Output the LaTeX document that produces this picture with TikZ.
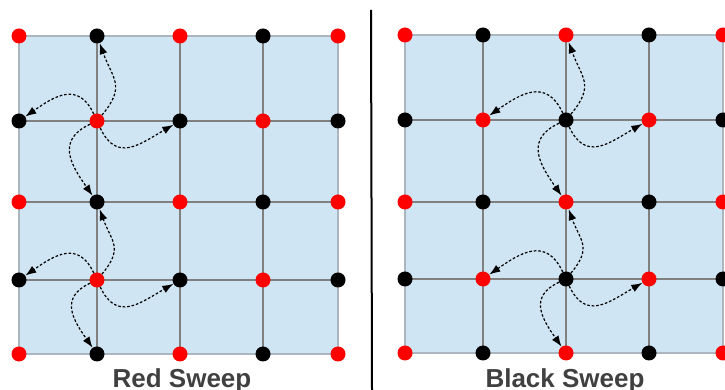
\documentclass[tikz,border=0pt]{standalone}
\usepackage{fontspec}
\setmainfont{Liberation Sans}
\usetikzlibrary{arrows.meta,backgrounds}
\definecolor{gridblue}{RGB}{208,229,243}
\definecolor{bordergray}{RGB}{172,182,192}
\definecolor{linegray}{RGB}{128,128,128}
\definecolor{labelgray}{RGB}{64,64,64}
\tikzset{
  reddot/.style={circle,fill=red,minimum size=15pt,inner sep=0pt},
  blackdot/.style={circle,fill=black,minimum size=15pt,inner sep=0pt},
  gridline/.style={draw=linegray,line width=2.6pt},
  panel/.style={fill=gridblue,draw=bordergray,line width=1.2pt},
  sweeparrow/.style={draw=black,line width=1.2pt,dash pattern=on 2.6pt off 1.9pt,
    looseness=1.35,-{Latex[length=11pt,width=8pt]}},
  sweeplabel/.style={font=\fontsize{26}{30}\selectfont\bfseries,text=labelgray,anchor=base,inner sep=0pt},
}
\begin{document}
\begin{tikzpicture}[x=1pt,y=1pt]
\useasboundingbox (0,0) rectangle (725,390);
% dots, left panel
\foreach \y [count=\i from 0] in {354,269,188,110,36} {
  \foreach \x [count=\j from 0] in {19,97,180,263,338} {
    \pgfmathtruncatemacro\parity{mod(\i+\j,2)}
    \ifnum\parity=0
      \node[reddot] (L-\i-\j) at (\x,\y) {};
    \else
      \node[blackdot] (L-\i-\j) at (\x,\y) {};
    \fi
  }
}
% dots, right panel
\foreach \y [count=\i from 0] in {355,270,188,111,37} {
  \foreach \x [count=\j from 0] in {405,483,566,649,723} {
    \pgfmathtruncatemacro\parity{mod(\i+\j,2)}
    \ifnum\parity=0
      \node[reddot] (R-\i-\j) at (\x,\y) {};
    \else
      \node[blackdot] (R-\i-\j) at (\x,\y) {};
    \fi
  }
}
\begin{pgfonlayer}{background}
  \foreach \p in {L,R} {
    \draw[panel] (\p-0-0.center) rectangle (\p-4-4.center);
    \foreach \k in {1,2,3} {
      \draw[gridline] (\p-0-\k.center) -- (\p-4-\k.center);
      \draw[gridline] (\p-\k-0.center) -- (\p-\k-4.center);
    }
  }
\end{pgfonlayer}
% sweep arrows
\foreach \p/\r/\c in {L/1/1, L/3/1, R/1/2, R/3/2} {
  \pgfmathtruncatemacro\up{\r-1}
  \pgfmathtruncatemacro\dn{\r+1}
  \pgfmathtruncatemacro\lf{\c-1}
  \pgfmathtruncatemacro\rt{\c+1}
  \draw[sweeparrow] (\p-\r-\c) to[out=50,in=-70] (\p-\up-\c);
  \draw[sweeparrow] (\p-\r-\c) to[out=115,in=35] (\p-\r-\lf);
  \draw[sweeparrow] (\p-\r-\c) to[out=-65,in=-150] (\p-\r-\rt);
  \draw[sweeparrow] (\p-\r-\c) to[out=205,in=125] (\p-\dn-\c);
}
% separator
\coordinate (septop) at (371,380);
\coordinate (sepbot) at (372,0);
\draw[line width=2pt] (septop) -- (sepbot);
% labels
\node[sweeplabel] (redlabel) at (182,2.5) {Red Sweep};
\node[sweeplabel] (blacklabel) at (565,2.5) {Black Sweep};
\end{tikzpicture}
\end{document}
